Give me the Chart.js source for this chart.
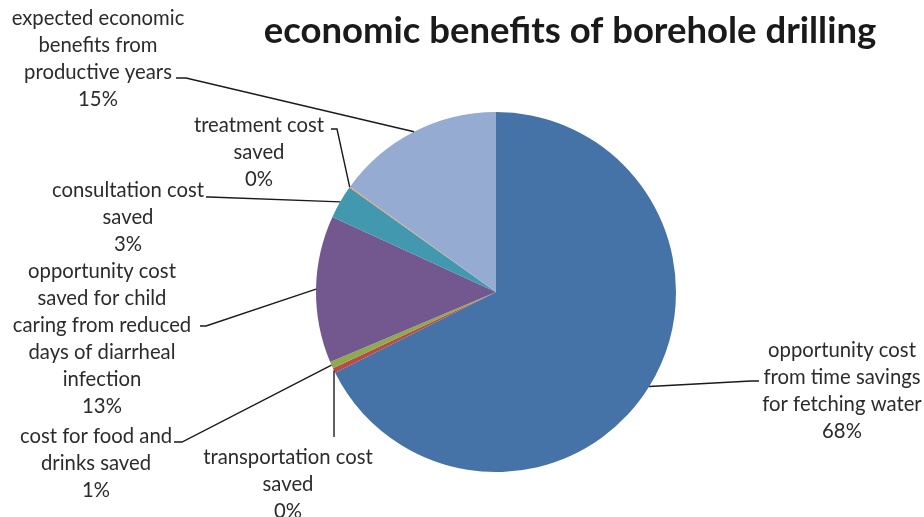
<!DOCTYPE html>
<html>
<head>
<meta charset="utf-8">
<script src="https://cdn.jsdelivr.net/npm/chart.js@4.4.1/dist/chart.umd.min.js"></script>
<style>
html,body{margin:0;padding:0;background:#fff;}
#wrap{width:924px;height:517px;position:relative;}
</style>
</head>
<body>
<div id="wrap"><canvas id="c" width="924" height="517"></canvas></div>
<script>
const title = 'economic benefits of borehole drilling';
const categories = [
  'opportunity cost from time savings for fetching water',
  'transportation cost saved',
  'cost for food and drinks saved',
  'opportunity cost saved for child caring from reduced days of diarrheal infection',
  'consultation cost saved',
  'treatment cost saved',
  'expected economic benefits from productive years'
];
const values = [67.6, 0.45, 0.6, 13.2, 3.0, 0.1, 15.05];
const labelLines = [
  ['opportunity cost', 'from time savings', 'for fetching water'],
  ['transportation cost', 'saved'],
  ['cost for food and', 'drinks saved'],
  ['opportunity cost', 'saved for child', 'caring from reduced', 'days of diarrheal', 'infection'],
  ['consultation cost', 'saved'],
  ['treatment cost', 'saved'],
  ['expected economic', 'benefits from', 'productive years']
];
const colors = ['#4572A7', '#B94A48', '#8DAA4C', '#73578F', '#4198AF', '#F69545', '#95ABD2'];

// layout of label boxes (text center x, first line center y, leader anchor, stub)
const labelLayout = [
  {cx: 842, y0: 350, ax: 759, ay: 381, stub: -8},
  {cx: 288, y0: 457, ax: 334, ay: 437, stub: 0},
  {cx: 96,  y0: 436, ax: 174, ay: 442, stub: 8},
  {cx: 102, y0: 271, ax: 200, ay: 326, stub: 6},
  {cx: 128, y0: 190, ax: 206, ay: 197, stub: 3},
  {cx: 259, y0: 125, ax: 331, ay: 129, stub: 6},
  {cx: 98,  y0: 18,  ax: 176, ay: 78,  stub: 10}
];
const LINE_H = 27;
const FONT = '"Lato", "Open Sans", sans-serif';

const total = values.reduce((a, b) => a + b, 0);

const labelsPlugin = {
  id: 'pieLabels',
  afterDraw(chart) {
    const ctx = chart.ctx;
    const meta = chart.getDatasetMeta(0);
    ctx.save();
    // title
    ctx.fillStyle = '#1a1a1a';
    ctx.font = 'bold 36.5px ' + FONT;
    ctx.textAlign = 'center';
    ctx.textBaseline = 'middle';
    ctx.fillText(title, 570, 31);

    ctx.font = '20.3px ' + FONT;
    meta.data.forEach((arc, i) => {
      const p = arc.getProps(['x', 'y', 'startAngle', 'endAngle', 'outerRadius'], true);
      const mid = (p.startAngle + p.endAngle) / 2;
      const px = p.x + Math.cos(mid) * p.outerRadius;
      const py = p.y + Math.sin(mid) * p.outerRadius;
      const L = labelLayout[i];
      // leader line
      ctx.strokeStyle = '#1a1a1a';
      ctx.lineWidth = 1.4;
      ctx.beginPath();
      ctx.moveTo(L.ax, L.ay);
      ctx.lineTo(L.ax + L.stub, L.ay);
      ctx.lineTo(px, py);
      ctx.stroke();
      // text
      const pct = Math.round(values[i] / total * 100) + '%';
      const lines = labelLines[i].concat([pct]);
      ctx.fillStyle = '#2b2b2b';
      lines.forEach((t, k) => ctx.fillText(t, L.cx, L.y0 + k * LINE_H));
    });
    ctx.restore();
  }
};

new Chart(document.getElementById('c'), {
  type: 'pie',
  data: {
    labels: categories,
    datasets: [{
      data: values,
      backgroundColor: colors,
      borderWidth: 0
    }]
  },
  options: {
    responsive: false,
    animation: false,
    layout: { padding: { left: 316, right: 248, top: 112, bottom: 45 } },
    plugins: {
      legend: { display: false },
      tooltip: { enabled: false },
      title: { display: false }
    }
  },
  plugins: [labelsPlugin]
});
</script>
</body>
</html>
